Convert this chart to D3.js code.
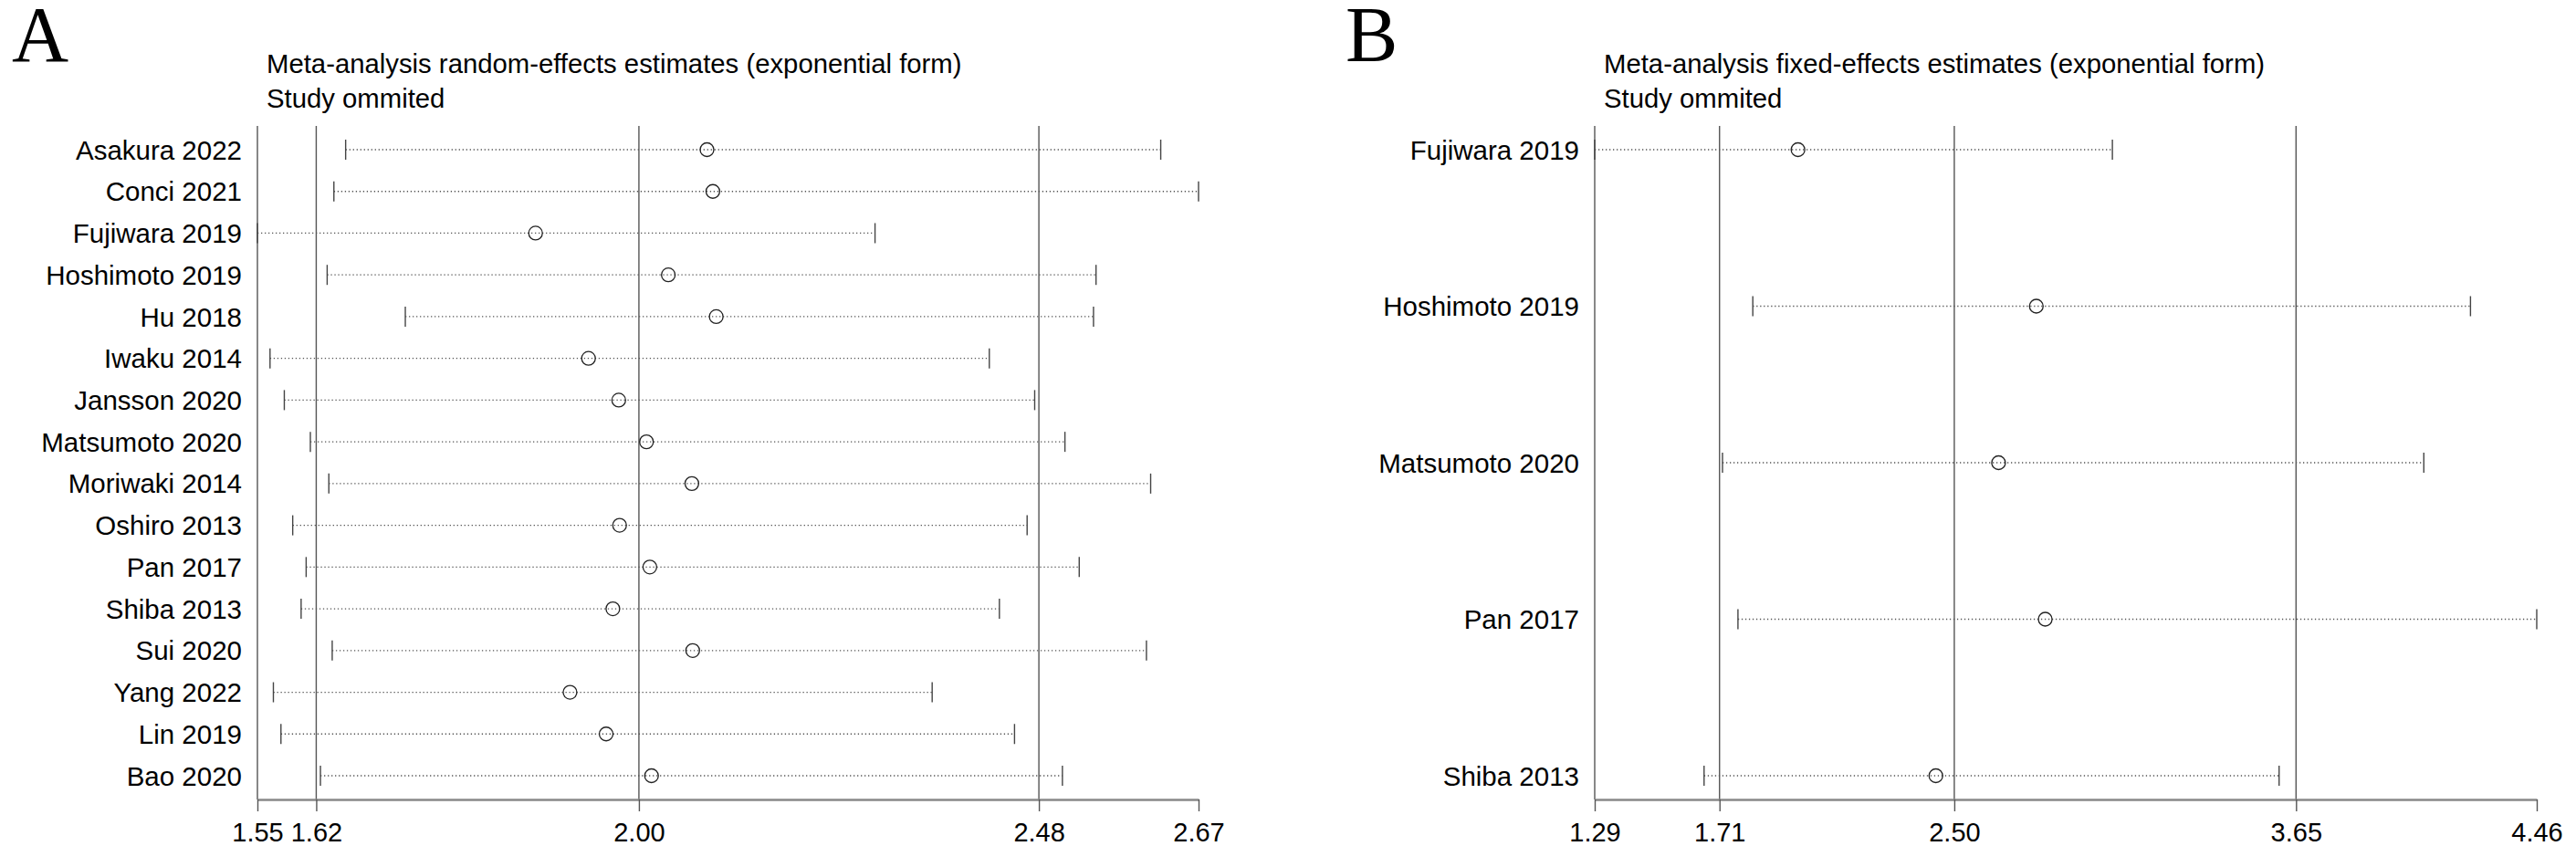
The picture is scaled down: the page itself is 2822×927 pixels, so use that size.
<!DOCTYPE html>
<meta charset="utf-8" />
<style>
  body { margin: 0; background: #fff; }
  text { font-family: "Liberation Sans", Arial, sans-serif; fill: #000; }
  .panel-letter { font-family: "Liberation Serif", "Times New Roman", serif; }
  .ci { stroke: #555; stroke-width: 1.3; stroke-dasharray: 1.3,2.7; fill: none; }
  .cap { stroke: #444; stroke-width: 1.4; }
  .est { fill: none; stroke: #222; stroke-width: 1.3; }
  .ref { stroke: #555; stroke-width: 1.4; }
</style>
<svg width="2822" height="927"></svg>
<script src="https://d3js.org/d3.v7.min.js"></script>
<script>
  // panel A: random-effects, one study omitted at a time
  const studiesA = ['Asakura 2022', 'Conci 2021', 'Fujiwara 2019', 'Hoshimoto 2019', 'Hu 2018',
    'Iwaku 2014', 'Jansson 2020', 'Matsumoto 2020', 'Moriwaki 2014', 'Oshiro 2013',
    'Pan 2017', 'Shiba 2013', 'Sui 2020', 'Yang 2022', 'Lin 2019', 'Bao 2020'];
  const estA = [2.085, 2.092, 1.881, 2.039, 2.096, 1.944, 1.980, 2.013, 2.067, 1.981,
    2.017, 1.973, 2.068, 1.922, 1.965, 2.019];
  const lowA = [1.655, 1.641, 1.55, 1.633, 1.726, 1.565, 1.582, 1.613, 1.635, 1.592,
    1.608, 1.602, 1.639, 1.569, 1.578, 1.625];
  const highA = [2.625, 2.67, 2.285, 2.548, 2.545, 2.421, 2.475, 2.511, 2.613, 2.466,
    2.528, 2.433, 2.608, 2.353, 2.451, 2.508];
  const ticksA = [1.55, 1.62, 2.004, 2.48, 2.67];
  const refA = [1.62, 2.004, 2.48];

  // panel B: fixed-effects
  const studiesB = ['Fujiwara 2019', 'Hoshimoto 2019', 'Matsumoto 2020', 'Pan 2017', 'Shiba 2013'];
  const estB = [1.974, 2.776, 2.649, 2.806, 2.438];
  const lowB = [1.29, 1.822, 1.720, 1.772, 1.658];
  const highB = [3.032, 4.237, 4.080, 4.46, 3.593];
  const ticksB = [1.29, 1.71, 2.50, 3.65, 4.46];
  const refB = [1.71, 2.50, 3.65];

  const svg = d3.select('svg');
  const plotTop = 138, plotBottom = 876;
  const fmt = d3.format('.2f');

  function panel(opt) {
    const g = svg.append('g');
    const x = d3.scaleLinear().domain([opt.ticks[0], opt.ticks[opt.ticks.length - 1]]).range([opt.x0, opt.x1]);
    const y = d3.scalePoint().domain(opt.studies).range([plotTop + 26, plotBottom - 26]);

    g.append('text').attr('class', 'panel-letter')
      .attr('x', opt.letterX).attr('y', 67).attr('font-size', 86).text(opt.letter);
    g.append('text').attr('x', opt.x0 + 10).attr('y', 80).attr('font-size', 29.3).text(opt.title);
    g.append('text').attr('x', opt.x0 + 10).attr('y', 118).attr('font-size', 29.3).text('Study ommited');

    // left frame and reference lines
    g.append('line').attr('class', 'ref')
      .attr('x1', x(opt.ticks[0])).attr('x2', x(opt.ticks[0])).attr('y1', plotTop).attr('y2', plotBottom);
    g.selectAll('.refl').data(opt.ref).join('line').attr('class', 'ref')
      .attr('x1', d => x(d)).attr('x2', d => x(d)).attr('y1', plotTop).attr('y2', plotBottom);

    // axis
    const ax = g.append('g').attr('transform', `translate(0,${plotBottom})`)
      .call(d3.axisBottom(x).tickValues(opt.ticks).tickFormat(fmt).tickSize(13).tickSizeOuter(0));
    ax.select('.domain').attr('stroke', '#888').attr('stroke-width', 2.5);
    ax.selectAll('.tick line').attr('stroke', '#555').attr('stroke-width', 1.4);
    ax.selectAll('.tick text').attr('font-size', 29).attr('font-family', '"Liberation Sans", Arial, sans-serif')
      .attr('fill', '#000').attr('dy', '1.05em');

    const rows = opt.studies.map((s, i) => ({ s, e: opt.est[i], lo: opt.low[i], hi: opt.high[i] }));

    g.selectAll('.lab').data(rows).join('text')
      .attr('x', opt.x0 - 17).attr('y', d => y(d.s)).attr('dy', '0.36em')
      .attr('text-anchor', 'end').attr('font-size', 29.5).text(d => d.s);

    g.selectAll('.ci').data(rows).join('line').attr('class', 'ci')
      .attr('x1', d => x(d.lo)).attr('x2', d => x(d.hi))
      .attr('y1', d => y(d.s)).attr('y2', d => y(d.s));

    g.selectAll('.capl').data(rows).join('line').attr('class', 'cap')
      .attr('x1', d => x(d.lo)).attr('x2', d => x(d.lo))
      .attr('y1', d => y(d.s) - 11).attr('y2', d => y(d.s) + 11);
    g.selectAll('.caph').data(rows).join('line').attr('class', 'cap')
      .attr('x1', d => x(d.hi)).attr('x2', d => x(d.hi))
      .attr('y1', d => y(d.s) - 11).attr('y2', d => y(d.s) + 11);

    g.selectAll('.est').data(rows).join('circle').attr('class', 'est')
      .attr('cx', d => x(d.e)).attr('cy', d => y(d.s)).attr('r', 7.5);
  }

  panel({
    letter: 'A', letterX: 13, x0: 282, x1: 1313,
    title: 'Meta-analysis random-effects estimates (exponential form)',
    studies: studiesA, est: estA, low: lowA, high: highA, ticks: ticksA, ref: refA
  });
  panel({
    letter: 'B', letterX: 1474, x0: 1747, x1: 2779,
    title: 'Meta-analysis fixed-effects estimates (exponential form)',
    studies: studiesB, est: estB, low: lowB, high: highB, ticks: ticksB, ref: refB
  });
</script>
